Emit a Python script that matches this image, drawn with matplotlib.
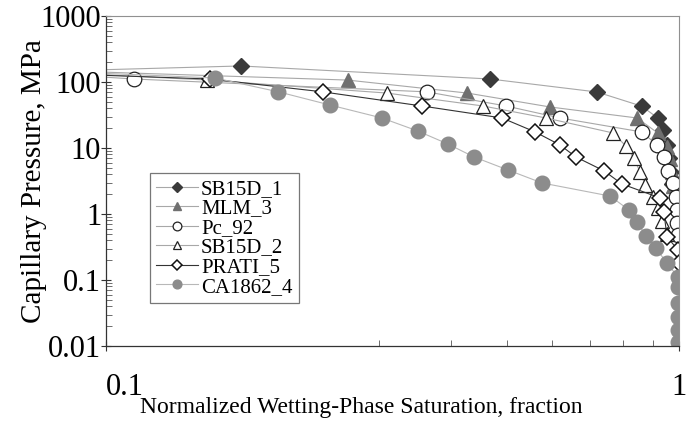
import matplotlib
matplotlib.use("Agg")
import matplotlib.pyplot as plt
from matplotlib.ticker import FixedLocator, NullFormatter, FixedFormatter

plt.rcParams['font.family'] = ['Liberation Serif', 'DejaVu Serif']

# ---- data (normalized wetting-phase saturation, capillary pressure MPa) ----
sb15d_1_x = [0.09, 0.172, 0.468, 0.719, 0.861, 0.918, 0.937, 0.953, 0.962, 0.968, 0.972]
sb15d_1_y = [150, 175, 111, 70.6, 43, 28.5, 18.7, 11.0, 7.0, 4.4, 2.8]

mlm_3_x = [0.09, 0.264, 0.427, 0.596, 0.845, 0.918, 0.953, 0.965, 0.972, 0.978]
mlm_3_y = [145, 107, 68, 41.8, 28.5, 16.9, 10.4, 6.8, 4.3, 2.7]

pc_92_x = [0.09, 0.112, 0.363, 0.499, 0.620, 0.861, 0.916, 0.941, 0.957, 0.977, 0.988, 0.992, 0.993, 0.994]
pc_92_y = [125, 111, 70.9, 43.3, 28.5, 17.5, 11.1, 7.3, 4.5, 2.95, 1.81, 1.15, 0.73, 0.48]

sb15d_2_x = [0.09, 0.150, 0.309, 0.455, 0.586, 0.767, 0.808, 0.834, 0.855, 0.873, 0.901, 0.918, 0.934, 0.953]
sb15d_2_y = [135, 107, 68, 43.3, 28.5, 16.9, 10.7, 7.05, 4.33, 2.75, 1.81, 1.23, 0.78, 0.50]

prati_5_x = [0.09, 0.152, 0.239, 0.356, 0.491, 0.561, 0.620, 0.661, 0.740, 0.795, 0.927, 0.941, 0.953, 0.996, 0.998]
prati_5_y = [130, 111, 70.9, 43.3, 28.5, 17.5, 11.1, 7.3, 4.5, 2.85, 1.75, 1.07, 0.45, 0.285, 0.18]

ca1862_4_x = [0.09, 0.155, 0.200, 0.246, 0.303, 0.350, 0.395, 0.439, 0.503, 0.577, 0.758, 0.818,
              0.845, 0.876, 0.911, 0.953, 0.996, 0.997, 0.997, 0.997, 0.997, 0.997]
ca1862_4_y = [140, 115, 70.9, 44.8, 28.5, 18.1, 11.5, 7.3, 4.64, 2.95, 1.87, 1.15,
              0.756, 0.464, 0.305, 0.18, 0.111, 0.078, 0.045, 0.0275, 0.0175, 0.0115]

series_names = ["SB15D_1", "MLM_3", "Pc_92", "SB15D_2", "PRATI_5", "CA1862_4"]

y_ticks = [0.01, 0.1, 1, 10, 100, 1000]
y_tick_labels = ["0.01", "0.1", "1", "10", "100", "1000"]
x_ticks = [0.1, 1]
x_tick_labels = ["0.1", "1"]
x_minor = [0.3, 0.4, 0.5, 0.6, 0.7, 0.8, 0.9]

fig = plt.figure(figsize=(6.88, 4.26), dpi=100)
ax = fig.add_axes([106/688, 1-346/426, (679-106)/688, (346-16)/426])

styles = [
    dict(marker='D', ms=8.5, mfc='#3a3a3a', mec='#3a3a3a', color='#a8a8a8', lw=0.8),
    dict(marker='^', ms=10, mfc='#707070', mec='#707070', color='#a8a8a8', lw=0.8),
    dict(marker='o', ms=10.5, mfc='white', mec='#222222', mew=0.9, color='#a8a8a8', lw=0.8),
    dict(marker='^', ms=10.5, mfc='white', mec='#222222', mew=0.9, color='#a8a8a8', lw=0.8),
    dict(marker='D', ms=8.5, mfc='white', mec='#111111', mew=1.1, color='#333333', lw=0.8),
    dict(marker='o', ms=10.5, mfc='#8c8c8c', mec='#8c8c8c', color='#b8b8b8', lw=0.8),
]
data = [(sb15d_1_x, sb15d_1_y), (mlm_3_x, mlm_3_y), (pc_92_x, pc_92_y),
        (sb15d_2_x, sb15d_2_y), (prati_5_x, prati_5_y), (ca1862_4_x, ca1862_4_y)]

for (xs, ys), name, st in zip(data, series_names, styles):
    ax.plot(xs, ys, label=name, **st)

ax.set_xscale('log')
ax.set_yscale('log')
ax.set_xlim(0.1, 1)
ax.set_ylim(0.01, 1000)

ax.yaxis.set_major_locator(FixedLocator(y_ticks))
ax.yaxis.set_major_formatter(FixedFormatter(y_tick_labels))
ax.xaxis.set_major_locator(FixedLocator(x_ticks))
ax.xaxis.set_major_formatter(FixedFormatter(x_tick_labels))
ax.xaxis.set_minor_locator(FixedLocator(x_minor))
ax.xaxis.set_minor_formatter(NullFormatter())
ax.yaxis.set_minor_formatter(NullFormatter())

ax.tick_params(axis='both', which='major', direction='inout', length=7, width=0.8,
               labelsize=22, color='#333333')
ax.tick_params(axis='y', which='major', pad=0)
ax.tick_params(axis='x', which='major', pad=16)
ax.tick_params(axis='y', which='minor', direction='in', length=4, width=0.6, color='#555555')
ax.tick_params(axis='x', which='minor', direction='in', length=4, width=0.6, color='#555555')
xt = ax.get_xticklabels()
xt[0].set_horizontalalignment('left')

for s in ['left', 'bottom']:
    ax.spines[s].set_color('#333333')
    ax.spines[s].set_linewidth(0.9)
for s in ['top', 'right']:
    ax.spines[s].set_color('#909090')
    ax.spines[s].set_linewidth(0.8)

ax.set_xlabel("Normalized Wetting-Phase Saturation, fraction", fontsize=17)
ax.xaxis.set_label_coords((361-106)/573, -0.155)
ax.set_ylabel("Capillary Pressure, MPa", fontsize=21)
ax.yaxis.set_label_coords(-(106-47)/573, 0.5)

leg = ax.legend(loc='upper left', bbox_to_anchor=((150-106)/573, 1-(173-16)/330),
                fontsize=15, markerscale=0.6, handlelength=2.0, handletextpad=0.15,
                labelspacing=0.0, borderpad=0.3, fancybox=False, frameon=True,
                borderaxespad=0)
leg.get_frame().set_edgecolor('#555555')
leg.get_frame().set_linewidth(0.9)

fig.savefig("out.png", dpi=100)
